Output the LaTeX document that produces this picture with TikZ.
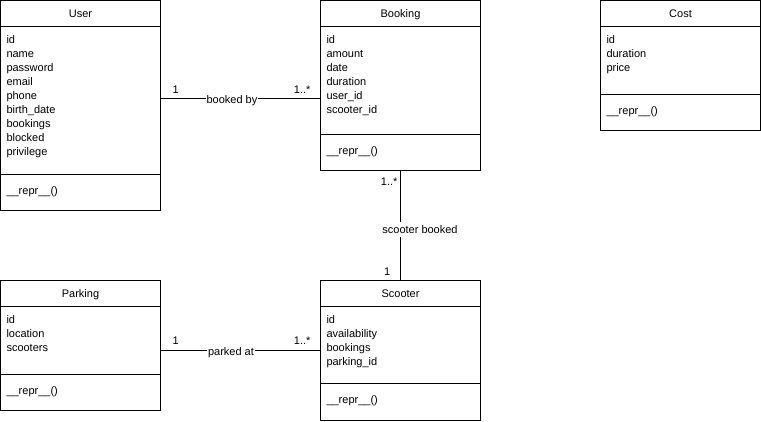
\documentclass[tikz,border=0pt]{standalone}
\usepackage{fontspec}
\setmainfont{Liberation Sans}
\begin{document}
\begin{tikzpicture}[x=1pt,y=-1pt,
  font=\fontsize{11}{14}\selectfont,
  line width=1pt,
  cls/.style={draw, anchor=north west, inner sep=0pt, outer sep=0pt, minimum width=160pt},
  ttl/.style={anchor=base, inner sep=0pt},
  attr/.style={anchor=base west, inner sep=0pt},
  lbl/.style={anchor=base, inner sep=1pt, fill=white},
  mult/.style={inner sep=0pt}]
\useasboundingbox (0,0) rectangle (761,421);

% ---------- User ----------
\node[cls, minimum height=210pt] (user) at (0.5,0.5) {};
\draw (user.west |- 0,26.5) -- (user.east |- 0,26.5);
\draw (user.west |- 0,174.5) -- (user.east |- 0,174.5);
\node[ttl] (userT) at (80.5,17.5) {User};
\foreach \t [count=\i] in {id,name,password,email,phone,birth\_date,bookings,blocked,privilege}
  \node[attr] (userA\i) at (6,{43.3+14*(\i-1)}) {\t};
\node[attr] (userM) at (6,194.5) {\_\_repr\_\_()};

% ---------- Booking ----------
\node[cls, minimum height=170pt] (booking) at (320.5,0.5) {};
\draw (booking.west |- 0,26.5) -- (booking.east |- 0,26.5);
\draw (booking.west |- 0,134.5) -- (booking.east |- 0,134.5);
\node[ttl] (bookingT) at (400.5,17.5) {Booking};
\foreach \t [count=\i] in {id,amount,date,duration,user\_id,scooter\_id}
  \node[attr] (bookingA\i) at (326,{43.3+14*(\i-1)}) {\t};
\node[attr] (bookingM) at (326,154.5) {\_\_repr\_\_()};

% ---------- Cost ----------
\node[cls, minimum height=130pt] (cost) at (600.5,0.5) {};
\draw (cost.west |- 0,26.5) -- (cost.east |- 0,26.5);
\draw (cost.west |- 0,94.5) -- (cost.east |- 0,94.5);
\node[ttl] (costT) at (680.5,17.5) {Cost};
\foreach \t [count=\i] in {id,duration,price}
  \node[attr] (costA\i) at (606,{43.3+14*(\i-1)}) {\t};
\node[attr] (costM) at (606,114.5) {\_\_repr\_\_()};

% ---------- Parking ----------
\node[cls, minimum height=130pt] (parking) at (0.5,280.5) {};
\draw (parking.west |- 0,306.5) -- (parking.east |- 0,306.5);
\draw (parking.west |- 0,374.5) -- (parking.east |- 0,374.5);
\node[ttl] (parkingT) at (80.5,297.5) {Parking};
\foreach \t [count=\i] in {id,location,scooters}
  \node[attr] (parkingA\i) at (6,{323.3+14*(\i-1)}) {\t};
\node[attr] (parkingM) at (6,394.5) {\_\_repr\_\_()};

% ---------- Scooter ----------
\node[cls, minimum height=140pt] (scooter) at (320.5,280.5) {};
\draw (scooter.west |- 0,306.5) -- (scooter.east |- 0,306.5);
\draw (scooter.west |- 0,383.5) -- (scooter.east |- 0,383.5);
\node[ttl] (scooterT) at (400.5,297.5) {Scooter};
\foreach \t [count=\i] in {id,availability,bookings,parking\_id}
  \node[attr] (scooterA\i) at (326,{323.3+14*(\i-1)}) {\t};
\node[attr] (scooterM) at (326,403.5) {\_\_repr\_\_()};

% ---------- Associations ----------
\draw (user.east |- 0,98.5) -- (booking.west |- 0,98.5);
\node[lbl] (bookedby) at (232,103.5) {booked by};
\node[mult, anchor=base west] (m1) at (172,93) {1};
\node[mult, anchor=base east] (m2) at (311,93) {1..*};

\draw (booking.south) -- (scooter.north);
\node[lbl, inner ysep=3.5pt] (scbooked) at (420,233) {scooter booked};
\node[mult, anchor=base east] (m3) at (398,185) {1..*};
\node[mult, anchor=base west] (m4) at (383.5,275) {1};

\draw (parking.east |- 0,350.5) -- (scooter.west |- 0,350.5);
\node[lbl] (parkedat) at (231,355.5) {parked at};
\node[mult, anchor=base west] (m5) at (172,344) {1};
\node[mult, anchor=base east] (m6) at (311,344) {1..*};
\end{tikzpicture}
\end{document}
